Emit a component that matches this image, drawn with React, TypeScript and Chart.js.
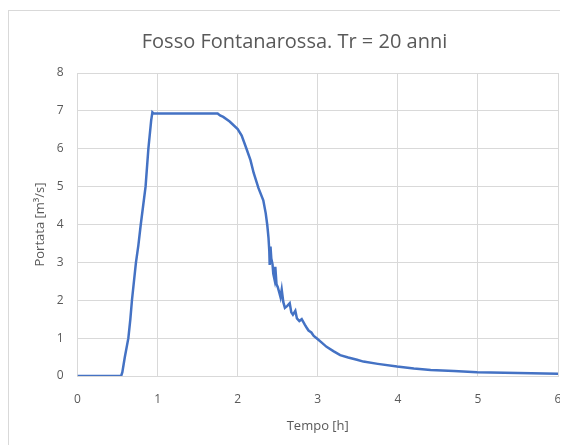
import React, { useEffect, useRef } from "react";
import { Chart, registerables } from "chart.js";

Chart.register(...registerables);

// Idrogramma di piena: tempo [h] e portata [m³/s]
const tempo: number[] = [
  0, 0.545, 0.56, 0.59, 0.635, 0.66, 0.68, 0.73, 0.76, 0.79, 0.85, 0.885, 0.92, 0.935,
  0.95, 1.5, 1.75, 1.78, 1.82, 1.9, 2.0, 2.05, 2.11, 2.16, 2.2, 2.26, 2.32,
  2.35, 2.37, 2.385, 2.395, 2.4, 2.41, 2.42, 2.435, 2.445, 2.46, 2.47, 2.485,
  2.5, 2.52, 2.535, 2.55, 2.57, 2.59, 2.62, 2.65, 2.67, 2.69, 2.72, 2.74,
  2.77, 2.8, 2.84, 2.86, 2.885, 2.92, 2.95, 2.99, 3.05, 3.11, 3.2, 3.28,
  3.38, 3.49, 3.57, 3.75, 3.99, 4.2, 4.41, 4.7, 4.99, 5.5, 6.0,
];
const portata: number[] = [
  0, 0, 0.1, 0.49, 1.0, 1.5, 2.0, 3.0, 3.45, 4.0, 5.0, 6.0, 6.75, 6.96,
  6.93, 6.93, 6.93, 6.88, 6.84, 6.72, 6.52, 6.35, 6.0, 5.7, 5.36, 4.96, 4.64,
  4.3, 3.98, 3.65, 3.3, 2.93, 3.42, 3.1, 2.95, 2.7, 2.55, 2.88, 2.42,
  2.35, 2.2, 2.08, 2.28, 1.95, 1.8, 1.85, 1.92, 1.68, 1.62, 1.72, 1.52,
  1.45, 1.5, 1.35, 1.28, 1.2, 1.15, 1.06, 0.99, 0.88, 0.77, 0.65, 0.55,
  0.49, 0.43, 0.38, 0.32, 0.25, 0.2, 0.16, 0.13, 0.1, 0.08, 0.06,
];

const titolo = "Fosso Fontanarossa. Tr = 20 anni";
const titoloX = "Tempo [h]";
const titoloY = "Portata [m³/s]";

const FONT = "'Open Sans', sans-serif";
const GREY_TEXT = "#595959";
const GRID = "#d9d9d9";

// Titolo centrato sull'intera area del grafico
const titlePlugin = {
  id: "centeredTitle",
  afterDraw(chart: any) {
    const ctx = chart.ctx;
    ctx.save();
    ctx.fillStyle = GREY_TEXT;
    ctx.font = `20px ${FONT}`;
    ctx.textAlign = "center";
    ctx.textBaseline = "middle";
    ctx.fillText(titolo, chart.width / 2, 31);
    ctx.restore();
  },
};

export default function App() {
  const canvasRef = useRef<HTMLCanvasElement | null>(null);

  useEffect(() => {
    document.body.style.overflow = "hidden";
    const canvas = canvasRef.current;
    if (!canvas) return;
    const chart = new Chart(canvas, {
      type: "scatter",
      data: {
        datasets: [
          {
            data: tempo.map((t, i) => ({ x: t, y: portata[i] })),
            showLine: true,
            borderColor: "#4472C4",
            borderWidth: 2.5,
            pointRadius: 0,
            tension: 0,
          },
        ],
      },
      options: {
        animation: false,
        responsive: false,
        layout: { autoPadding: false, padding: { left: 0, right: 22, top: 62, bottom: 0 } },
        plugins: {
          legend: { display: false },
          tooltip: { enabled: false },
          title: { display: false },
        },
        scales: {
          x: {
            type: "linear",
            min: 0,
            max: 6,
            afterFit: (s: any) => {
              s.height = 70;
            },
            ticks: {
              stepSize: 1,
              color: GREY_TEXT,
              font: { family: FONT, size: 12 },
              padding: 16,
            },
            grid: { color: GRID, drawTicks: false },
            border: { color: GRID },
            title: {
              display: true,
              text: titoloX,
              color: GREY_TEXT,
              font: { family: FONT, size: 13 },
              padding: { top: 0, bottom: 12.2 },
            },
          },
          y: {
            min: 0,
            max: 8,
            afterFit: (s: any) => {
              s.width = 68.5;
            },
            ticks: {
              stepSize: 1,
              color: GREY_TEXT,
              font: { family: FONT, size: 12 },
              padding: 14,
            },
            grid: { color: GRID, drawTicks: false },
            border: { color: GRID },
            title: {
              display: true,
              text: titoloY,
              color: GREY_TEXT,
              font: { family: FONT, size: 13 },
              padding: { top: 23.2, bottom: 0 },
            },
          },
        },
      },
      plugins: [titlePlugin],
    });
    return () => chart.destroy();
  }, []);

  return (
    <div
      style={{
        marginTop: 2,
        width: 600,
        height: 460,
        border: "1px solid #d9d9d9",
        background: "#fff",
        boxSizing: "border-box",
      }}
    >
      <canvas ref={canvasRef} width={571} height={435} style={{ display: "block" }} />
    </div>
  );
}
